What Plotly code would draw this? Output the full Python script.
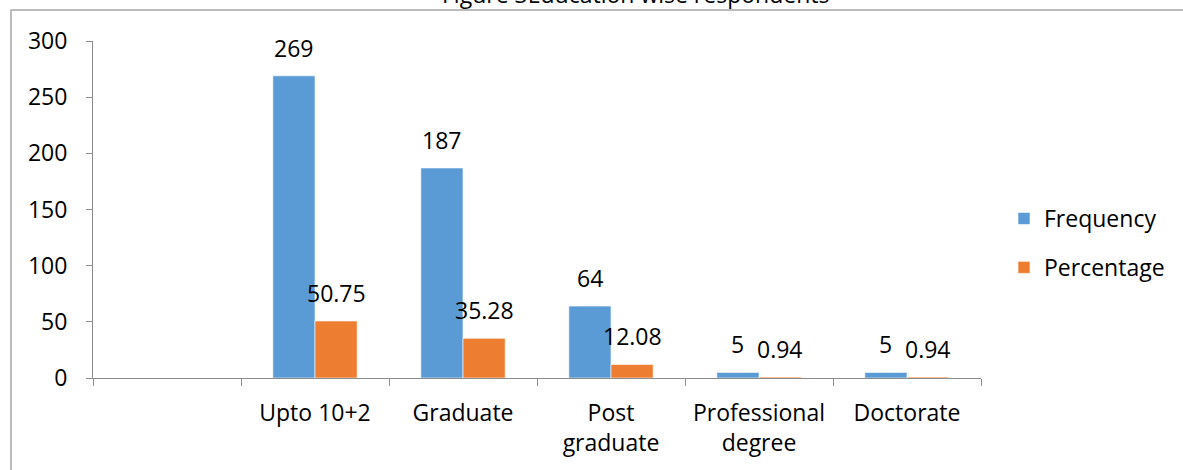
import plotly.graph_objects as go

# Education level categories (first slot is an empty placeholder category)
categories = [" ", "Upto 10+2", "Graduate", "Post<br>graduate", "Professional<br>degree", "Doctorate"]
frequency = [None, 269, 187, 64, 5, 5]
percentage = [None, 50.75, 35.28, 12.08, 0.94, 0.94]
y_ticks = [0, 50, 100, 150, 200, 250, 300]

BLUE = "#5B9BD5"
ORANGE = "#ED7D31"
AXIS = "#8C8C8C"
FONT = "Open Sans"
FS = 23

W, H = 1183, 470
ML, MR, MT, MB = 93, 202, 41, 92
PW = W - ML - MR
PH = H - MT - MB

fig = go.Figure()
fig.add_trace(go.Bar(name="Frequency", x=categories, y=frequency,
                     marker=dict(color=BLUE, line=dict(color="white", width=0.6)),
                     legendgroup="f"))
fig.add_trace(go.Bar(name="Percentage", x=categories, y=percentage,
                     marker=dict(color=ORANGE, line=dict(color="white", width=0.6)),
                     legendgroup="p"))

# value labels above each bar
half = PW / len(categories) * (1 - 0.43) / 4
for series, shift in ((frequency, -half), (percentage, half)):
    for cat, v in zip(categories, series):
        if v is None:
            continue
        fig.add_annotation(x=cat, y=v, text=f"{v:g}", showarrow=False,
                           xshift=shift, yanchor="bottom", yshift=10,
                           font=dict(family=FONT, size=FS, color="black"))

# chart title, partly clipped at the top edge
fig.add_annotation(xref="paper", yref="paper", x=(635 - ML) / PW, y=1 + (MT - 12) / PH,
                   text="Figure 3Education wise respondents", showarrow=False,
                   xanchor="center", yanchor="bottom",
                   font=dict(family=FONT, size=FS, color="black"))

# outer chart border
fig.add_shape(type="rect", xref="paper", yref="paper", layer="below",
              x0=(11 - ML) / PW, x1=1.4, y0=-0.4, y1=1 + (MT - 10) / PH,
              line=dict(color="#A6A6A6", width=1.5), fillcolor="rgba(0,0,0,0)")

fig.update_layout(
    width=W, height=H,
    margin=dict(l=ML, r=MR, t=MT, b=MB, pad=0, autoexpand=False),
    paper_bgcolor="white", plot_bgcolor="white",
    barmode="group", bargap=0.43, bargroupgap=0,
    font=dict(family=FONT, size=FS, color="black"),
    showlegend=True,
    legend=dict(x=(1004 - ML) / PW, y=(H - MB - 243) / PH, xanchor="left", yanchor="middle",
                traceorder="grouped", tracegroupgap=16,
                font=dict(family=FONT, size=FS, color="black"),
                itemwidth=30),
)
fig.update_xaxes(type="category", categoryorder="array", categoryarray=categories,
                 range=[-0.5, len(categories) - 0.5],
                 showline=True, linecolor=AXIS, linewidth=1,
                 ticks="outside", tickson="boundaries", ticklen=7, tickcolor=AXIS,
                 showgrid=False, ticklabelstandoff=14)
fig.update_yaxes(range=[0, 300], tickvals=y_ticks,
                 showline=True, linecolor=AXIS, linewidth=1,
                 ticks="outside", ticklen=6, tickcolor=AXIS,
                 showgrid=False, zeroline=False, ticklabelstandoff=14)

fig.write_html("out.html")
